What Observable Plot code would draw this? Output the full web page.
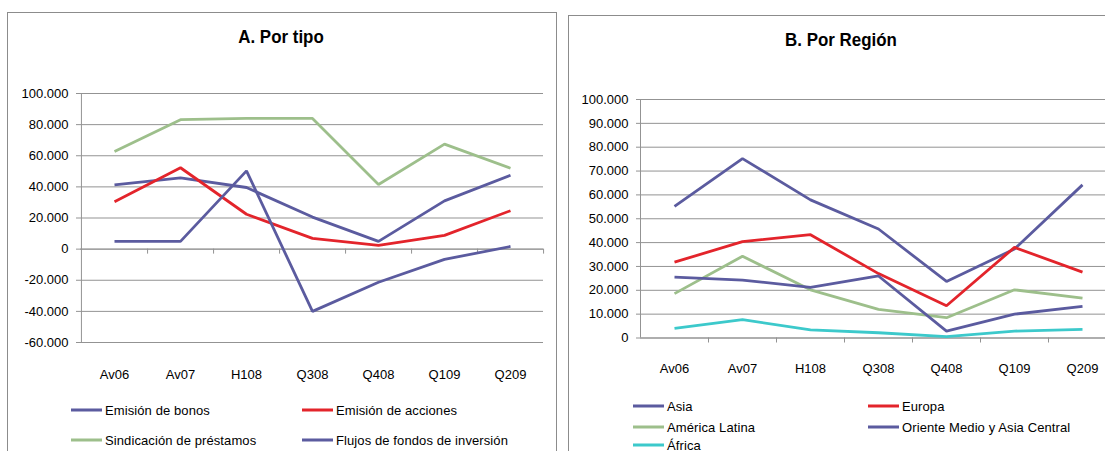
<!DOCTYPE html>
<html><head><meta charset="utf-8">
<script src="https://cdn.jsdelivr.net/npm/d3@7"></script>
<script src="https://cdn.jsdelivr.net/npm/@observablehq/plot@0.6"></script>
<style>
body{margin:0;background:#fff;}
#page{position:relative;width:1105px;height:451px;overflow:hidden;background:#fff;font-family:"Liberation Sans",Arial,sans-serif;}
.frame{position:absolute;border:1.5px solid #8c8c8c;box-sizing:border-box;}
.title{position:absolute;font-family:"Liberation Sans",Arial,sans-serif;font-weight:bold;font-size:19px;transform:translate(-50%,-50%) scaleX(0.89);white-space:nowrap;color:#000;}
.plotbox{position:absolute;top:0;width:560px;}
.plotbox svg{max-width:none !important;}
.leg{position:absolute;font-size:13px;display:flex;align-items:center;transform:translateY(-50%);white-space:nowrap;color:#000;letter-spacing:0.1px;}
.leg i{display:inline-block;width:31px;height:3px;margin-right:3px;}
</style></head>
<body><div id="page">
<div class="frame" style="left:7px;top:12px;width:550px;height:460px;"></div>
<div class="frame" style="left:568px;top:15px;width:560px;height:460px;"></div>
<div class="title" style="left:281px;top:37px;">A. Por tipo</div>
<div class="title" style="left:841px;top:40px;">B. Por Región</div>
<div class="plotbox" id="plotA" style="left:0px;"></div>
<div class="plotbox" id="plotB" style="left:560px;"></div>
</div>
<script>
const categories = ["Av06","Av07","H108","Q308","Q408","Q109","Q209"];

// Panel A: por tipo
const bonos     = [41300, 45800, 39600, 20600, 5000, 31000, 47500];
const acciones  = [30500, 52300, 22400, 6900, 2400, 8800, 24700];
const prestamos = [62800, 83200, 84000, 84000, 41500, 67500, 52000];
const fondos    = [5000, 5000, 50300, -40000, -21300, -6600, 1700];
const ticksA = [-60000, -40000, -20000, 0, 20000, 40000, 60000, 80000, 100000];

// Panel B: por región
const asia          = [55200, 75200, 57900, 45700, 23700, 37300, 64200];
const europa        = [31800, 40400, 43300, 27000, 13500, 38000, 27600];
const americaLatina = [18600, 34300, 20200, 12000, 8500, 20200, 16700];
const orienteMedio  = [25500, 24300, 21200, 26000, 2900, 10000, 13300];
const africa        = [4000, 7700, 3400, 2200, 600, 2900, 3600];
const ticksB = [0, 10000, 20000, 30000, 40000, 50000, 60000, 70000, 80000, 90000, 100000];

const PURPLE = "#5b5b9f", RED = "#e3242b", GREEN = "#9dbf8b", CYAN = "#3cc9cb";

const seriesA = [
  {name: "Emisión de bonos", values: bonos, color: PURPLE},
  {name: "Emisión de acciones", values: acciones, color: RED},
  {name: "Sindicación de préstamos", values: prestamos, color: GREEN},
  {name: "Flujos de fondos de inversión", values: fondos, color: PURPLE}
];
const seriesB = [
  {name: "Asia", values: asia, color: PURPLE},
  {name: "Europa", values: europa, color: RED},
  {name: "América Latina", values: americaLatina, color: GREEN},
  {name: "Oriente Medio y Asia Central", values: orienteMedio, color: PURPLE},
  {name: "África", values: africa, color: CYAN}
];

const fmt = d3.formatLocale({decimal: ",", thousands: ".", grouping: [3], currency: ["", "€"], minus: "-"}).format(",d");
const GRID = "#939393";

function chart({series, ticks, width, height, mt, mb, ml, mr, labelPad}) {
  const data = series.flatMap(s => s.values.map((v, i) => ({cat: categories[i], v, s: s.name})));
  const domain = [ticks[0], ticks[ticks.length - 1]];
  const plotW = width - ml - mr, plotH = height - mt - mb;
  const step = plotW / categories.length;
  const unitsPerPx = (domain[1] - domain[0]) / plotH;
  const tickLen = 5 * unitsPerPx;
  return Plot.plot({
    width, height,
    marginTop: mt, marginBottom: mb, marginLeft: ml, marginRight: mr,
    x: {type: "point", domain: categories, padding: 0.5, label: null},
    y: {domain, label: null},
    color: {domain: series.map(s => s.name), range: series.map(s => s.color)},
    style: {fontFamily: "'Liberation Sans', Arial, sans-serif", fontSize: "13px", color: "#000", background: "transparent", overflow: "visible"},
    marks: [
      Plot.gridY(ticks, {stroke: GRID, strokeOpacity: 1, strokeWidth: 1}),
      Plot.axisY(ticks, {tickFormat: fmt, tickSize: 4, tickPadding: 8, stroke: GRID, fontSize: 13, label: null}),
      Plot.ruleX([categories[0]], {dx: -step / 2, y1: domain[0], y2: domain[1], stroke: GRID}),
      Plot.ruleY([0], {stroke: GRID}),
      Plot.ruleX(categories, {dx: step / 2, y1: 0, y2: -tickLen, stroke: GRID}),
      Plot.axisX({tickSize: 0, tickPadding: labelPad, fontSize: 13, label: null}),
      Plot.line(data, {x: "cat", y: "v", z: "s", stroke: "s", strokeWidth: 2.8, strokeLinejoin: "miter", strokeLinecap: "butt"})
    ]
  });
}

document.getElementById("plotA").appendChild(chart({series: seriesA, ticks: ticksA, width: 560, height: 395, mt: 93, mb: 53, ml: 80, mr: 17, labelPad: 27}));
document.getElementById("plotB").appendChild(chart({series: seriesB, ticks: ticksB, width: 560, height: 390, mt: 99, mb: 52.5, ml: 80, mr: 4, labelPad: 26}));

function legend(series, positions) {
  const page = document.getElementById("page");
  series.forEach((s, i) => {
    const [x, y] = positions[i];
    const d = document.createElement("div");
    d.className = "leg";
    d.style.left = x + "px";
    d.style.top = y + "px";
    const sw = document.createElement("i");
    sw.style.background = s.color;
    d.appendChild(sw);
    d.appendChild(document.createTextNode(s.name));
    page.appendChild(d);
  });
}
legend(seriesA, [[71, 410], [302, 410], [71, 440], [302, 440]]);
legend(seriesB, [[633, 406], [868, 406], [633, 427], [868, 427], [633, 445]]);
</script>
</body></html>
